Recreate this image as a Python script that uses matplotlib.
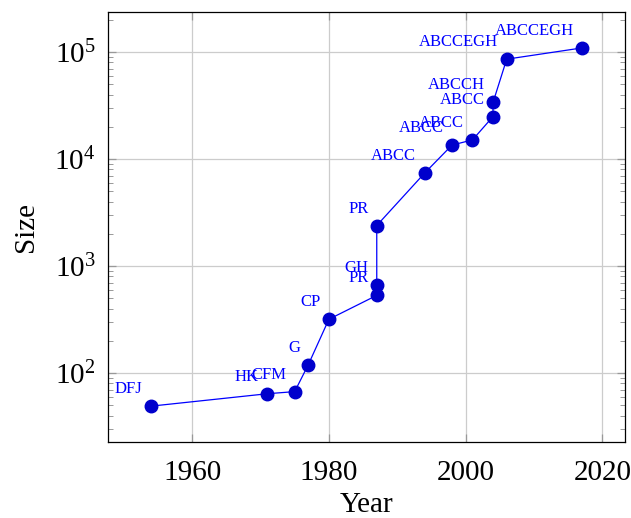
import matplotlib
matplotlib.use("Agg")
import matplotlib.pyplot as plt
from matplotlib.ticker import LogLocator, NullFormatter

years = [1954, 1971, 1975, 1977, 1980, 1987, 1987, 1987, 1994, 1998, 2001, 2004, 2004, 2006, 2017]
sizes = [49, 64, 67, 120, 318, 532, 666, 2392, 7397, 13509, 15112, 24978, 33810, 85900, 109399]
labels = ["DFJ", "HK", "CFM", "G", "CP", "PR", "GH", "PR", "ABCC", "ABCC", "ABCC",
          "ABCC", "ABCCH", "ABCCEGH", "ABCCEGH"]
xticks = [1960, 1980, 2000, 2020]

plt.rcParams['font.family'] = ['Liberation Serif', 'DejaVu Serif']
plt.rcParams['mathtext.fontset'] = 'custom'
plt.rcParams['mathtext.rm'] = 'Liberation Serif'
plt.rcParams['mathtext.it'] = 'Liberation Serif:italic'

fig = plt.figure(figsize=(6.31, 5.18), dpi=100)
ax = fig.add_axes([108/631, 1-442/518, (625-108)/631, (442-12)/518])

ax.plot(years, sizes, color='#0000ff', lw=0.9, marker='o', markersize=9,
        markerfacecolor='#0000cc', markeredgecolor='#0000cc', zorder=3)
for x, y, t in zip(years, sizes, labels):
    ax.annotate(t, (x, y), xytext=(-6, 6.5), textcoords='offset points',
                ha='right', va='bottom', color='#0000ff', fontsize=12, zorder=4)

ax.set_yscale('log')
ax.set_xlim(1947.7, 2023.3)
ax.set_ylim(10**1.355, 10**5.375)
ax.set_xticks(xticks)
ax.set_xticklabels([str(v) for v in xticks])
ax.yaxis.set_major_locator(LogLocator(base=10, numticks=10))
ax.yaxis.set_minor_locator(LogLocator(base=10, subs=range(2, 10), numticks=20))
ax.yaxis.set_minor_formatter(NullFormatter())

ax.grid(True, which='major', color='#cccccc', lw=0.9, zorder=0)
ax.tick_params(which='both', direction='in', top=True, right=True,
               color='#999999', labelsize=21)
ax.tick_params(which='major', length=6, width=0.9)
ax.tick_params(which='minor', length=3.5, width=0.7)
ax.tick_params(axis='x', pad=13)
ax.tick_params(axis='y', pad=9)
for s in ax.spines.values():
    s.set_linewidth(0.9)
    s.set_color('black')

ax.set_xlabel('Year', fontsize=21, labelpad=4)
ax.set_ylabel('Size', fontsize=21, labelpad=11)

fig.savefig('out.png', dpi=100)
